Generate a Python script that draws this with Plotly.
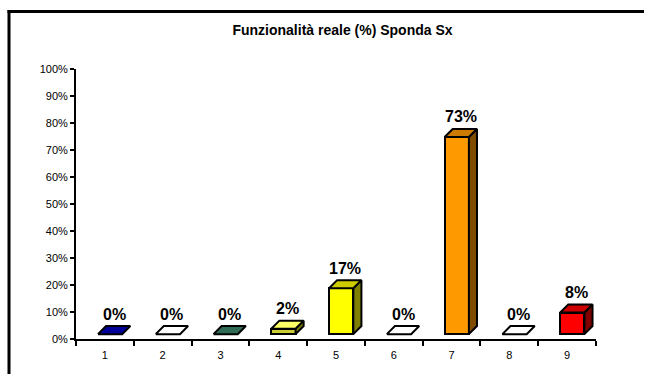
import plotly.graph_objects as go

# ---- data ----
categories = ["1", "2", "3", "4", "5", "6", "7", "8", "9"]
values = [0, 0, 0, 2, 17, 0, 73, 0, 8]
value_labels = ["0%", "0%", "0%", "2%", "17%", "0%", "73%", "0%", "8%"]
y_ticks = [0, 10, 20, 30, 40, 50, 60, 70, 80, 90, 100]
y_tick_labels = ["0%", "10%", "20%", "30%", "40%", "50%", "60%", "70%", "80%", "90%", "100%"]
title_text = "Funzionalità reale (%) Sponda Sx"

front_colors = ["#000099", "#FFFFFF", "#2F6B55", "#CCCC33", "#FFFF00", "#FFFFFF", "#FF9900", "#FFFFFF", "#FF0000"]
top_colors = ["#000099", "#FFFFFF", "#2F6B55", "#FFFF66", "#CCCC00", "#FFFFFF", "#CC7A00", "#FFFFFF", "#CC0000"]
side_colors = ["#000066", "#CCCCCC", "#1F4A3A", "#808000", "#808000", "#CCCCCC", "#804D00", "#CCCCCC", "#800000"]

# ---- pseudo-3D geometry (in axis units) ----
BASE = 1.8      # floor lift of the bars
W = 0.42        # front face width
OFF = 0.09      # front face offset from category centre
DX = 0.14       # depth, x
DY = 3.0        # depth, y

W_PX, H_PX = 645, 374
L, R, T, B = 76, 49, 69, 35
pw, ph = W_PX - L - R, H_PX - T - B

fig = go.Figure()

xs = [i + 1 + OFF for i in range(len(categories))]

fig.add_trace(go.Bar(
    x=xs, y=values, base=BASE, width=W,
    marker=dict(color=front_colors, line=dict(color="black", width=2)),
    hoverinfo="skip", showlegend=False,
))

for i, v in enumerate(values):
    c = xs[i]
    x0, x1 = c - W / 2, c + W / 2
    yt = BASE + v
    if v > 0:
        fig.add_trace(go.Scatter(
            x=[x1, x1, x1 + DX, x1 + DX, x1],
            y=[BASE, yt, yt + DY, BASE + DY, BASE],
            mode="lines", fill="toself", fillcolor=side_colors[i],
            line=dict(color="black", width=2), hoverinfo="skip", showlegend=False,
        ))
    fig.add_trace(go.Scatter(
        x=[x0, x1, x1 + DX, x0 + DX, x0],
        y=[yt, yt, yt + DY, yt + DY, yt],
        mode="lines", fill="toself", fillcolor=top_colors[i],
        line=dict(color="black", width=2), hoverinfo="skip", showlegend=False,
    ))
    fig.add_annotation(
        x=c + DX / 2, y=yt + DY, text=value_labels[i], showarrow=False,
        yanchor="middle", yshift=12,
        font=dict(family="Liberation Sans, Arial", size=16, color="black", weight="bold"),
    )

# outer frame: left and top edges (right/bottom lie outside the picture)
fx0 = (9 - L) / pw
fy1 = (T + ph - 11.5) / ph
fig.add_shape(type="line", xref="paper", yref="paper",
              x0=fx0, x1=fx0, y0=(T + ph - H_PX) / ph, y1=fy1 + 1.5 / ph,
              line=dict(color="black", width=3))
fig.add_shape(type="line", xref="paper", yref="paper",
              x0=fx0 - 1.5 / pw, x1=(W_PX - 1 - L) / pw, y0=fy1, y1=fy1,
              line=dict(color="black", width=3))

fig.update_layout(
    width=W_PX, height=H_PX,
    margin=dict(l=L, r=R, t=T, b=B),
    paper_bgcolor="white", plot_bgcolor="white",
    font=dict(family="Liberation Sans, Arial", color="black", size=11),
    title=dict(
        text=title_text, x=342.5 / W_PX, xanchor="center",
        y=1 - 30 / H_PX, yanchor="middle",
        font=dict(family="Liberation Sans, Arial", size=14, color="black", weight="bold"),
    ),
    showlegend=False,
    bargap=0,
    xaxis=dict(
        range=[0.5, 9.5], tickvals=[i + 1 for i in range(len(categories))],
        ticktext=categories, ticks="outside", ticklen=5, tickcolor="rgba(0,0,0,0)",
        showline=True, linecolor="black", linewidth=2, showgrid=False, zeroline=False,
        tickfont=dict(size=11),
        minor=dict(tickmode="linear", tick0=0.5, dtick=1, ticks="outside", ticklen=5,
                   tickwidth=2, tickcolor="black", showgrid=False),
    ),
    yaxis=dict(
        range=[0, 100], tickvals=y_ticks, ticktext=y_tick_labels,
        ticks="outside", ticklen=4, tickwidth=2, tickcolor="black",
        showline=True, linecolor="black", linewidth=2, showgrid=False, zeroline=False,
        tickfont=dict(size=11),
    ),
)

fig.write_html("out.html")
